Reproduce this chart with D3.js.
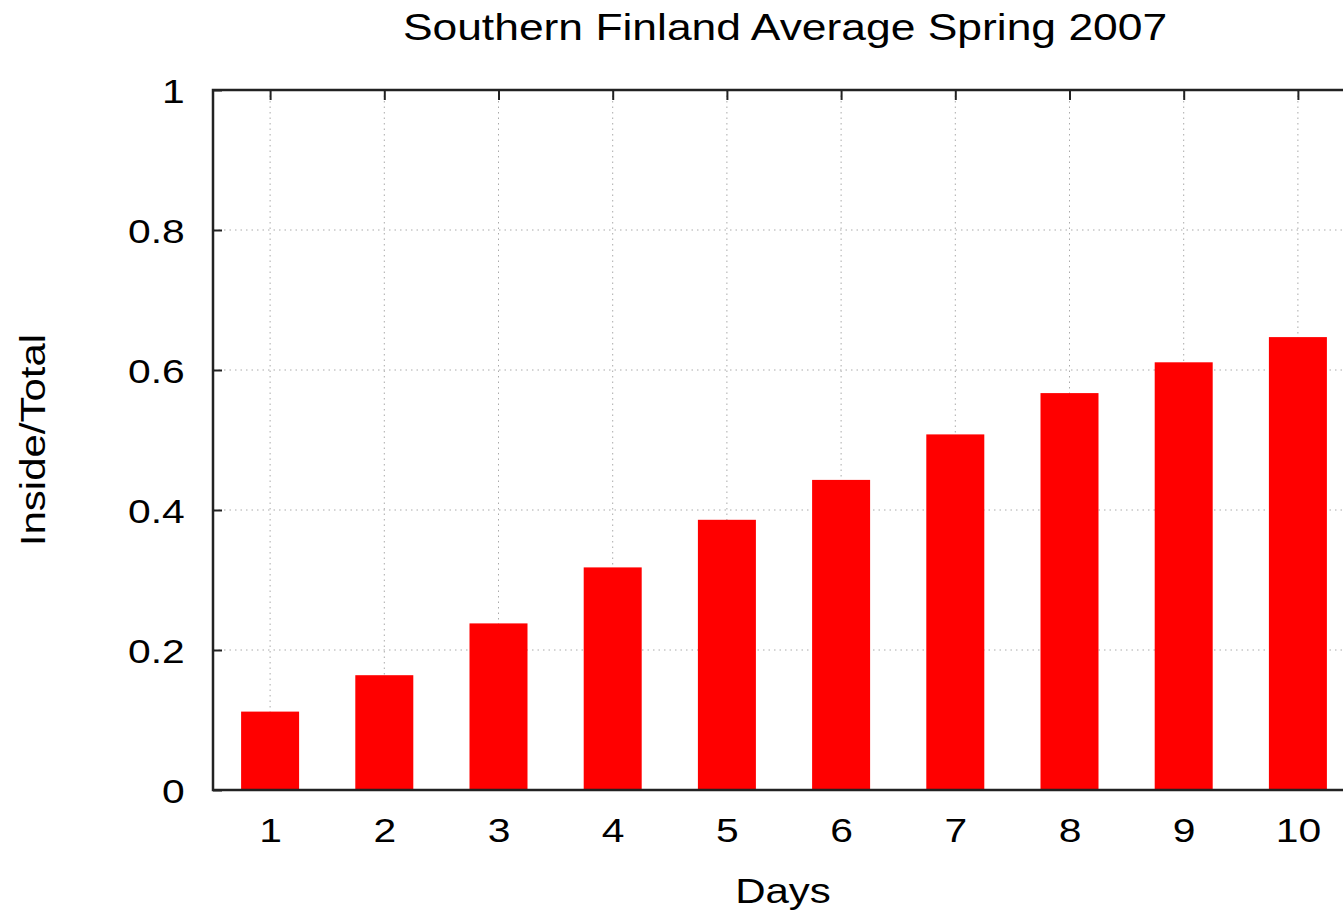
<!DOCTYPE html>
<html>
<head>
<meta charset="utf-8">
<script src="https://cdn.jsdelivr.net/npm/d3@7"></script>
<style>
  body { margin: 0; background: #fff; }
  text { font-family: "Liberation Sans", Arial, sans-serif; fill: #000; }
</style>
</head>
<body>
<div id="chart"></div>
<script>
// data
const days = [1, 2, 3, 4, 5, 6, 7, 8, 9, 10];
const ratio = [0.112, 0.164, 0.238, 0.318, 0.386, 0.443, 0.508, 0.567, 0.611, 0.647];
const yTicks = [0, 0.2, 0.4, 0.6, 0.8, 1];

const W = 1343, H = 911;
const margin = ({top: 90, left: 213, bottom: 121});
const plotRight = 1355; // plot runs off the right edge of the picture
const stretch = 1.2;    // the original font is wider than Liberation Sans

const svg = d3.select('#chart')
    .append('svg')
    .attr('width', W)
    .attr('height', H);

const xScale = d3.scaleLinear()
    .domain([0.5, 10.5])
    .range([margin.left, plotRight]);

const yScale = d3.scaleLinear()
    .domain([0, 1])
    .range([H - margin.bottom, margin.top]);

const barW = 58;

// grid
svg.append('g')
    .selectAll('line')
    .data(days)
    .join('line')
    .attr('x1', d => xScale(d)).attr('x2', d => xScale(d))
    .attr('y1', yScale(0)).attr('y2', yScale(1))
    .attr('stroke', '#aaa')
    .attr('stroke-width', 1)
    .attr('stroke-dasharray', '1.5,4');

svg.append('g')
    .selectAll('line')
    .data(yTicks.slice(1, -1))
    .join('line')
    .attr('x1', margin.left).attr('x2', plotRight)
    .attr('y1', d => yScale(d)).attr('y2', d => yScale(d))
    .attr('stroke', '#aaa')
    .attr('stroke-width', 1)
    .attr('stroke-dasharray', '1.5,4');

// bars
svg.append('g')
    .selectAll('rect')
    .data(days)
    .join('rect')
    .attr('x', (d, i) => xScale(d) - barW / 2)
    .attr('y', (d, i) => yScale(ratio[i]))
    .attr('width', barW)
    .attr('height', (d, i) => yScale(0) - yScale(ratio[i]))
    .attr('fill', '#ff0000');

// axes: inward ticks
const yAxis = d3.axisLeft(yScale).tickValues(yTicks).tickSize(-9).tickFormat(d3.format('~g')).tickPadding(23.5);
const yAxisG = svg.append('g')
    .attr('transform', 'translate(' + margin.left + ',0)')
    .call(yAxis);
yAxisG.select('.domain').remove();
yAxisG.selectAll('.tick line').attr('stroke', '#222').attr('stroke-width', 2);
yAxisG.selectAll('.tick text')
    .style('font-size', '34px')
    .attr('dy', '0.36em')
    .attr('transform', 'scale(' + stretch + ',1)');

const xAxis = d3.axisBottom(xScale).tickValues(days).tickSize(0).tickPadding(28);
const xAxisG = svg.append('g')
    .attr('transform', 'translate(0,' + yScale(0) + ')')
    .call(xAxis);
xAxisG.select('.domain').remove();
xAxisG.selectAll('.tick text')
    .style('font-size', '34px')
    .attr('transform', 'scale(' + stretch + ',1)');

// mirrored ticks on top
const topG = svg.append('g')
    .attr('transform', 'translate(0,' + margin.top + ')')
    .call(d3.axisTop(xScale).tickValues(days).tickSize(-10).tickFormat(''));
topG.select('.domain').remove();
topG.selectAll('.tick line').attr('stroke', '#222').attr('stroke-width', 2);

// frame
svg.append('path')
    .attr('d', 'M' + plotRight + ',' + margin.top + 'H' + margin.left + 'V' + yScale(0) + 'H' + plotRight)
    .attr('fill', 'none')
    .attr('stroke', '#222')
    .attr('stroke-width', 2.5);

// titles
svg.append('text')
    .attr('transform', 'translate(785,40) scale(' + stretch + ',1)')
    .attr('text-anchor', 'middle')
    .style('font-size', '37px')
    .text('Southern Finland Average Spring 2007');

svg.append('text')
    .attr('transform', 'translate(783,903) scale(' + stretch + ',1)')
    .attr('text-anchor', 'middle')
    .style('font-size', '35px')
    .text('Days');

svg.append('text')
    .attr('transform', 'translate(45,440) rotate(-90) scale(' + stretch + ',1)')
    .attr('text-anchor', 'middle')
    .style('font-size', '35px')
    .text('Inside/Total');
</script>
</body>
</html>
